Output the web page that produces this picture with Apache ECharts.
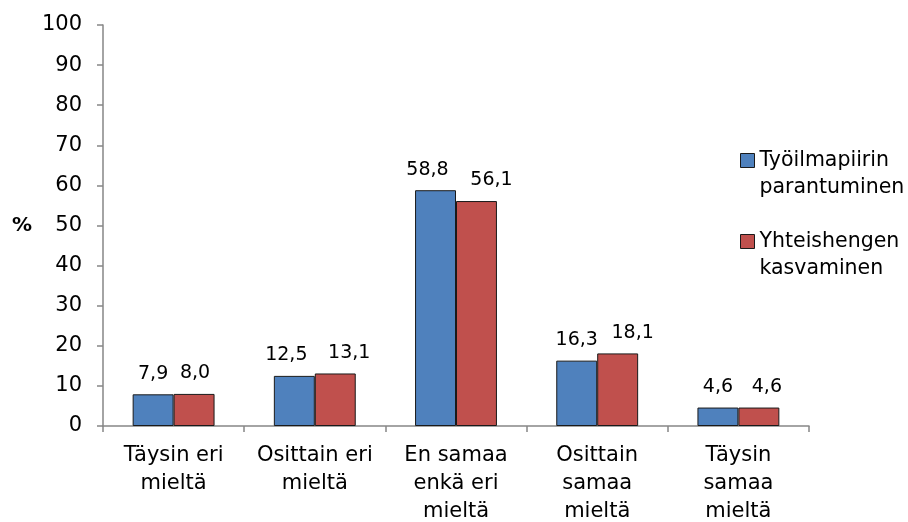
<!DOCTYPE html>
<html>
<head>
<meta charset="utf-8">
<script src="https://cdn.jsdelivr.net/npm/echarts@6/dist/echarts.min.js"></script>
<style>
  html, body { margin: 0; padding: 0; background: #fff; }
  #chart { width: 908px; height: 522px; }
</style>
</head>
<body>
<div id="chart"></div>
<script>
// Response categories (multi-line axis labels)
const categories = [
  'Täysin eri\nmieltä',
  'Osittain eri\nmieltä',
  'En samaa\nenkä eri\nmieltä',
  'Osittain\nsamaa\nmieltä',
  'Täysin\nsamaa\nmieltä'
];
const seriesNames = ['Työilmapiirin parantuminen', 'Yhteishengen kasvaminen'];
const tyoilmapiiri = [7.9, 12.5, 58.8, 16.3, 4.6];
const yhteishenki = [8.0, 13.1, 56.1, 18.1, 4.6];
const yTicks = { min: 0, max: 100, interval: 10 };

const FONT = 'DejaVu Sans';
const fmt = v => v.toFixed(1).replace('.', ',');

// horizontal nudges that keep neighbouring value labels apart
const labelNudge = [
  [0, -8, -8, 0, 0],
  [1, 14, 15, 15, 8]
];

const chart = echarts.init(document.getElementById('chart'), null, { renderer: 'canvas' });

function barSeries(idx, data, color) {
  return {
    name: seriesNames[idx],
    type: 'bar',
    data: data.map((v, i) => ({ value: v, label: { offset: [labelNudge[idx][i], 0] } })),
    barGap: '0%',
    barCategoryGap: '42%',
    itemStyle: { color: color, borderColor: '#1a1a1a', borderWidth: 1 },
    label: {
      show: true,
      position: 'top',
      distance: 11,
      color: '#000',
      fontFamily: FONT,
      fontSize: 19,
      formatter: p => fmt(p.value)
    }
  };
}

chart.setOption({
  animation: false,
  backgroundColor: '#fff',
  grid: { left: 103, right: 99, top: 25, bottom: 96, containLabel: false, outerBoundsMode: 'none' },
  legend: {
    orient: 'vertical',
    left: 735,
    top: 115,
    itemWidth: 14,
    itemHeight: 14,
    itemGap: 0,
    icon: 'rect',
    data: seriesNames,
    // leading blank line keeps the marker level with the first text line
    formatter: name => ' \n' + name.replace(' ', '\n'),
    textStyle: {
      fontFamily: FONT,
      fontSize: 20.5,
      color: '#000',
      lineHeight: 27
    },
    itemStyle: { borderColor: '#1a1a1a', borderWidth: 1 }
  },
  xAxis: {
    type: 'category',
    data: categories,
    axisLine: { lineStyle: { color: '#868686', width: 1.5 } },
    axisTick: { show: true, length: 6, alignWithLabel: false, lineStyle: { color: '#868686', width: 1.5 } },
    axisLabel: {
      color: '#000',
      fontFamily: FONT,
      fontSize: 21,
      lineHeight: 28,
      margin: 16,
      interval: 0
    }
  },
  yAxis: {
    type: 'value',
    min: yTicks.min,
    max: yTicks.max,
    interval: yTicks.interval,
    name: '%',
    nameLocation: 'middle',
    nameRotate: 0,
    nameGap: 71,
    nameTextStyle: { color: '#000', fontFamily: FONT, fontSize: 20, fontWeight: 'bold' },
    splitLine: { show: false },
    axisLine: { show: true, lineStyle: { color: '#868686', width: 1.5 } },
    axisTick: { show: true, length: 6, lineStyle: { color: '#868686', width: 1.5 } },
    axisLabel: { color: '#000', fontFamily: FONT, fontSize: 21, margin: 21 }
  },
  series: [
    barSeries(0, tyoilmapiiri, '#4F81BD'),
    barSeries(1, yhteishenki, '#C0504D')
  ]
});
</script>
</body>
</html>
